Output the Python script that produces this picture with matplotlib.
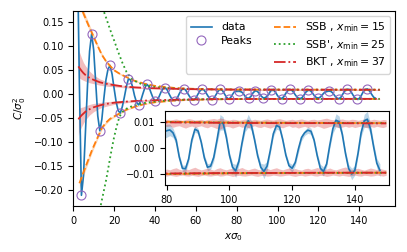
import numpy as np
import matplotlib
matplotlib.use("Agg")
import matplotlib.pyplot as plt
from matplotlib.lines import Line2D

plt.rcParams['font.size'] = 7
plt.rcParams['font.family'] = ['DejaVu Sans']

# ---------------- data ----------------
x_data = np.arange(2, 149)
c_data = [
    0.300, 0.020, -0.210, -0.170, -0.075, 0.020, 0.090, 0.126, 0.092, 0.025,
    -0.045, -0.076, -0.052, -0.008, 0.030, 0.052, 0.060, 0.042, 0.012, -0.016,
    -0.034, -0.039, -0.026, -0.006, 0.016, 0.032, 0.030, 0.016, -0.003, -0.017,
    -0.022, -0.014, 0.000, 0.013, 0.021, 0.016, 0.004, -0.007, -0.0135, -0.012,
    -0.005, 0.005, 0.012, 0.014, 0.009, 0.000, -0.008, -0.012, -0.013, -0.007,
    0.002, 0.009, 0.012, 0.009, 0.002, -0.005, -0.010, -0.012, -0.008, 0.000,
    0.007, 0.011, 0.009, 0.003, -0.004, -0.009, -0.011, -0.007, 0.000, 0.007,
    0.011, 0.008, 0.001, -0.006, -0.010, -0.007, 0.000, 0.0060, 0.0066, 0.0069,
    0.0058, 0.0030, -0.0035, -0.0078, -0.0080, -0.0042, 0.0030, 0.0072, 0.0065, 0.0022,
    -0.0038, -0.0074, -0.0070, -0.0036, 0.0028, 0.0098, 0.0094, 0.0042, -0.0028, -0.0074,
    -0.0088, -0.0052, 0.0018, 0.0080, 0.0104, 0.0086, 0.0032, -0.0030, -0.0074, -0.0090,
    -0.0070, -0.0012, 0.0054, 0.0086, 0.0080, 0.0032, -0.0028, -0.0068, -0.0078, -0.0056,
    -0.0004, 0.0040, 0.0058, 0.0068, 0.0064, 0.0030, -0.0030, -0.0078, -0.0090, -0.0062,
    0.0010, 0.0074, 0.0106, 0.0100, 0.0052, -0.0020, -0.0078, -0.0100, -0.0086, -0.0022,
    0.0058, 0.0104, 0.0110, 0.0072, 0.0004, -0.0058, -0.0086,
]

# error of the data (inset region, x = 79..148)
x_err = np.arange(79, 149)
c_err = [
    0.0025, 0.0025, 0.0022, 0.0018, 0.0015, 0.0012, 0.0012, 0.0014, 0.0012, 0.0010,
    0.0012, 0.0010, 0.0010, 0.0012, 0.0014, 0.0012, 0.0015, 0.0015, 0.0030, 0.0025,
    0.0015, 0.0012, 0.0015, 0.0025, 0.0015, 0.0012, 0.0018, 0.0025, 0.0018, 0.0012,
    0.0012, 0.0015, 0.0028, 0.0018, 0.0012, 0.0012, 0.0015, 0.0012, 0.0010, 0.0010,
    0.0012, 0.0015, 0.0012, 0.0015, 0.0012, 0.0010, 0.0012, 0.0012, 0.0010, 0.0012,
    0.0015, 0.0018, 0.0012, 0.0012, 0.0018, 0.0025, 0.0022, 0.0012, 0.0012, 0.0015,
    0.0022, 0.0018, 0.0012, 0.0015, 0.0025, 0.0030, 0.0020, 0.0015, 0.0018, 0.0025,
]

# SSB fit (x_min = 15)
ssb_x = [3, 4, 5, 6, 7, 8, 9, 10, 12, 14, 16, 18, 20, 23, 26, 30, 35, 40, 50, 60, 70, 80, 100, 120, 150]
ssb_up = [0.190, 0.180, 0.168, 0.158, 0.148, 0.138, 0.129, 0.119, 0.100, 0.082, 0.069, 0.059, 0.050,
          0.042, 0.036, 0.028, 0.022, 0.0175, 0.0130, 0.0112, 0.0104, 0.0100, 0.0097, 0.0096, 0.0095]
ssb_dn = [-0.185, -0.174, -0.162, -0.151, -0.140, -0.129, -0.118, -0.108, -0.089, -0.070, -0.059, -0.051,
          -0.046, -0.039, -0.032, -0.026, -0.020, -0.0165, -0.0128, -0.0112, -0.0104, -0.0100, -0.0097,
          -0.0096, -0.0095]
ssb_w = [0.010, 0.009, 0.008, 0.007, 0.0065, 0.006, 0.0055, 0.005, 0.004, 0.0035, 0.003, 0.0025, 0.002,
         0.0017, 0.0014, 0.0012, 0.0010, 0.0008, 0.0006, 0.0005, 0.0005, 0.0004, 0.0004, 0.0004, 0.0004]

# SSB' fit (x_min = 25)
ssbp_up_x = [14.3, 16, 18, 20, 22, 24, 26, 28, 30, 33, 36, 40, 50, 60, 80, 100, 150]
ssbp_up = [0.180, 0.160, 0.135, 0.112, 0.088, 0.066, 0.047, 0.035, 0.028, 0.022, 0.018, 0.0150,
           0.0118, 0.0106, 0.0099, 0.0097, 0.0095]
ssbp_dn_x = [13, 14, 15, 16, 17, 18, 19, 20, 21, 22, 23, 24, 26, 28, 30, 35, 40, 50, 60, 80, 100, 150]
ssbp_dn = [-0.240, -0.220, -0.200, -0.180, -0.157, -0.133, -0.110, -0.089, -0.071, -0.055, -0.044,
           -0.037, -0.030, -0.026, -0.023, -0.018, -0.015, -0.0118, -0.0106, -0.0099, -0.0097, -0.0095]

# BKT fit (x_min = 37)
bkt_x = [2.5, 3, 4, 5, 6, 8, 10, 13, 16, 20, 25, 30, 37, 45, 55, 65, 79, 90, 100, 115, 130, 150]
bkt_up = [0.058, 0.055, 0.049, 0.044, 0.040, 0.034, 0.030, 0.025, 0.022, 0.019, 0.016, 0.0145, 0.0130,
          0.0120, 0.0110, 0.0104, 0.0098, 0.0097, 0.0096, 0.0095, 0.0095, 0.0094]
bkt_dn = [-0.052, -0.049, -0.044, -0.040, -0.036, -0.031, -0.027, -0.023, -0.020, -0.0175, -0.0155,
          -0.0140, -0.0128, -0.0118, -0.0108, -0.0102, -0.0098, -0.0097, -0.0096, -0.0096, -0.0095, -0.0095]
# band, coarse part (x = 2.5 .. 79)
bkt_up_top_c = [0.095, 0.088, 0.076, 0.066, 0.059, 0.048, 0.040, 0.032, 0.027, 0.022, 0.0185, 0.0162,
                0.0143, 0.0130, 0.0120, 0.0114, 0.0108]
bkt_up_bot_c = [0.035, 0.034, 0.031, 0.029, 0.027, 0.024, 0.022, 0.019, 0.017, 0.0155, 0.0135, 0.0125,
                0.0113, 0.0105, 0.0096, 0.0091, 0.0086]
bkt_dn_top_c = [-0.030, -0.029, -0.027, -0.026, -0.024, -0.021, -0.019, -0.017, -0.0155, -0.0140,
                -0.0128, -0.0118, -0.0108, -0.0100, -0.0093, -0.0088, -0.0085]
bkt_dn_bot_c = [-0.085, -0.078, -0.068, -0.060, -0.053, -0.043, -0.036, -0.029, -0.025, -0.021,
                -0.018, -0.016, -0.0142, -0.0130, -0.0118, -0.0111, -0.0106]
# band, fine part (x = 79 .. 150)
bkt_xf = np.arange(79, 151)
bkt_up_top_f = [
    0.0108, 0.0110, 0.0107, 0.0109, 0.0111, 0.0108, 0.0106, 0.0109, 0.0112, 0.0110, 0.0107, 0.0108,
    0.0110, 0.0106, 0.0109, 0.0111, 0.0113, 0.0110, 0.0115, 0.0112, 0.0108, 0.0107, 0.0110, 0.0109,
    0.0106, 0.0108, 0.0111, 0.0109, 0.0107, 0.0110, 0.0108, 0.0106, 0.0109, 0.0111, 0.0108, 0.0107,
    0.0110, 0.0112, 0.0109, 0.0106, 0.0108, 0.0110, 0.0107, 0.0109, 0.0111, 0.0108, 0.0106, 0.0109,
    0.0110, 0.0107, 0.0109, 0.0112, 0.0114, 0.0110, 0.0108, 0.0106, 0.0109, 0.0111, 0.0108, 0.0107,
    0.0110, 0.0109, 0.0106, 0.0108, 0.0111, 0.0109, 0.0107, 0.0110, 0.0108, 0.0106, 0.0109, 0.0108]
bkt_up_bot_f = [
    0.0086, 0.0082, 0.0084, 0.0079, 0.0083, 0.0085, 0.0080, 0.0076, 0.0081, 0.0084, 0.0078, 0.0082,
    0.0085, 0.0080, 0.0077, 0.0083, 0.0079, 0.0074, 0.0072, 0.0078, 0.0083, 0.0081, 0.0076, 0.0080,
    0.0084, 0.0079, 0.0082, 0.0077, 0.0081, 0.0085, 0.0080, 0.0078, 0.0083, 0.0079, 0.0076, 0.0081,
    0.0084, 0.0080, 0.0077, 0.0082, 0.0085, 0.0079, 0.0081, 0.0076, 0.0080, 0.0083, 0.0078, 0.0082,
    0.0079, 0.0084, 0.0080, 0.0075, 0.0078, 0.0082, 0.0085, 0.0081, 0.0077, 0.0080, 0.0083, 0.0079,
    0.0082, 0.0078, 0.0081, 0.0084, 0.0080, 0.0077, 0.0082, 0.0079, 0.0083, 0.0080, 0.0078, 0.0082]
bkt_dn_top_f = [
    -0.0085, -0.0081, -0.0084, -0.0079, -0.0076, -0.0082, -0.0085, -0.0080, -0.0083, -0.0078, -0.0074, -0.0080,
    -0.0084, -0.0081, -0.0077, -0.0082, -0.0085, -0.0079, -0.0076, -0.0081, -0.0084, -0.0080, -0.0078, -0.0083,
    -0.0079, -0.0075, -0.0081, -0.0084, -0.0080, -0.0077, -0.0082, -0.0085, -0.0081, -0.0078, -0.0083, -0.0079,
    -0.0076, -0.0081, -0.0084, -0.0080, -0.0077, -0.0082, -0.0079, -0.0083, -0.0085, -0.0080, -0.0078, -0.0082,
    -0.0079, -0.0075, -0.0080, -0.0083, -0.0081, -0.0077, -0.0082, -0.0084, -0.0080, -0.0076, -0.0073, -0.0079,
    -0.0083, -0.0080, -0.0078, -0.0082, -0.0085, -0.0081, -0.0077, -0.0080, -0.0083, -0.0079, -0.0082, -0.0084]
bkt_dn_bot_f = [
    -0.0106, -0.0108, -0.0105, -0.0107, -0.0109, -0.0106, -0.0104, -0.0107, -0.0108, -0.0105, -0.0107, -0.0109,
    -0.0106, -0.0104, -0.0107, -0.0108, -0.0106, -0.0105, -0.0108, -0.0107, -0.0104, -0.0106, -0.0109, -0.0107,
    -0.0105, -0.0107, -0.0108, -0.0106, -0.0104, -0.0107, -0.0109, -0.0106, -0.0105, -0.0108, -0.0107, -0.0104,
    -0.0106, -0.0108, -0.0107, -0.0105, -0.0104, -0.0107, -0.0109, -0.0106, -0.0105, -0.0108, -0.0106, -0.0104,
    -0.0107, -0.0108, -0.0105, -0.0106, -0.0109, -0.0107, -0.0104, -0.0106, -0.0108, -0.0105, -0.0107, -0.0109,
    -0.0106, -0.0104, -0.0107, -0.0108, -0.0105, -0.0106, -0.0108, -0.0107, -0.0104, -0.0106, -0.0108, -0.0105]

labels = ['data', 'Peaks', r'SSB , $x_{\min}=15$', r"SSB', $x_{\min}=25$", r'BKT , $x_{\min}=37$']

# ---------------- plotting ----------------
C_BLUE, C_ORANGE, C_GREEN, C_RED, C_PURPLE = '#1f77b4', '#ff7f0e', '#2ca02c', '#d62728', '#9467bd'

xd = np.asarray(x_data)
yd = np.asarray(c_data)
mid = yd[1:-1]
is_peak = ((mid > yd[:-2]) & (mid > yd[2:])) | ((mid < yd[:-2]) & (mid < yd[2:]))
peak_x = xd[1:-1][is_peak]
peak_y = mid[is_peak]

err_y = yd[np.searchsorted(xd, x_err)]


def draw(a, with_peaks):
    a.fill_between(x_err, err_y - np.asarray(c_err), err_y + np.asarray(c_err),
                   color=C_BLUE, alpha=0.3, lw=0)
    h_data, = a.plot(xd, yd, color=C_BLUE, lw=1.2)
    # SSB
    su, sd, sw = np.asarray(ssb_up), np.asarray(ssb_dn), np.asarray(ssb_w)
    a.fill_between(ssb_x, su - sw, su + sw, color=C_ORANGE, alpha=0.3, lw=0)
    a.fill_between(ssb_x, sd - sw, sd + sw, color=C_ORANGE, alpha=0.3, lw=0)
    h_ssb, = a.plot(ssb_x, ssb_up, color=C_ORANGE, ls='--', lw=1.3)
    a.plot(ssb_x, ssb_dn, color=C_ORANGE, ls='--', lw=1.3)
    # BKT bands
    nb = len(bkt_up_top_c)
    a.fill_between(bkt_x[:nb], bkt_up_bot_c, bkt_up_top_c, color=C_RED, alpha=0.3, lw=0)
    a.fill_between(bkt_x[:nb], bkt_dn_bot_c, bkt_dn_top_c, color=C_RED, alpha=0.3, lw=0)
    a.fill_between(bkt_xf, bkt_up_bot_f, bkt_up_top_f, color=C_RED, alpha=0.3, lw=0)
    a.fill_between(bkt_xf, bkt_dn_bot_f, bkt_dn_top_f, color=C_RED, alpha=0.3, lw=0)
    # SSB'
    h_ssbp, = a.plot(ssbp_up_x, ssbp_up, color=C_GREEN, ls=':', lw=1.3)
    a.plot(ssbp_dn_x, ssbp_dn, color=C_GREEN, ls=':', lw=1.3)
    # BKT lines
    h_bkt, = a.plot(bkt_x, bkt_up, color=C_RED, ls='-.', lw=1.3)
    a.plot(bkt_x, bkt_dn, color=C_RED, ls='-.', lw=1.3)
    h_peaks = None
    if with_peaks:
        h_peaks, = a.plot(peak_x, peak_y, ls='none', marker='o', ms=6.5, mfc='none',
                          mec=C_PURPLE, mew=0.8)
    return h_data, h_peaks, h_ssb, h_ssbp, h_bkt


fig = plt.figure(figsize=(4.07, 2.52), dpi=100)
ax = fig.add_axes([0.180, 0.183, 0.790, 0.773])
h_data, h_peaks, h_ssb, h_ssbp, h_bkt = draw(ax, True)
ax.set_xlim(0, 157.4)
ax.set_ylim(-0.232, 0.173)
ax.set_yticks([-0.20, -0.15, -0.10, -0.05, 0.00, 0.05, 0.10, 0.15])
ax.set_xlabel(r'$x\sigma_0$', fontsize=7.5)
ax.set_ylabel(r'$C/\sigma_0^2$', fontsize=7.5)

blank = Line2D([], [], ls='none')
ax.legend([h_data, h_peaks, blank, h_ssb, h_ssbp, h_bkt],
          [labels[0], labels[1], '', labels[2], labels[3], labels[4]],
          ncol=2, loc='upper right', fontsize=7.8, labelspacing=0.35,
          borderaxespad=0.45)

axin = fig.add_axes([0.405, 0.266, 0.550, 0.294])
axin.set_facecolor('white')
draw(axin, False)
axin.set_xlim(79.4, 150.8)
axin.set_ylim(-0.0142, 0.0142)
axin.set_xticks([80, 100, 120, 140])
axin.set_yticks([-0.01, 0.0, 0.01])

fig.savefig('out.png', dpi=100)
